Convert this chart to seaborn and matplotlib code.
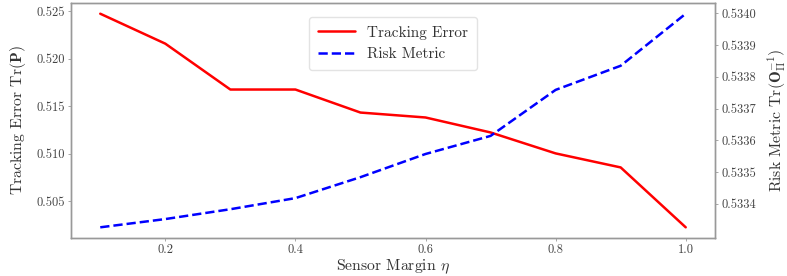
import matplotlib
matplotlib.use("Agg")
import matplotlib.pyplot as plt
import seaborn as sns
import pandas as pd

eta = [0.1, 0.2, 0.3, 0.4, 0.5, 0.6, 0.7, 0.8, 0.9, 1.0]
tracking_error = [0.52476, 0.5216, 0.51676, 0.51676, 0.51433, 0.51381, 0.51223, 0.51002, 0.50854, 0.50222]
risk_metric = [0.533326, 0.533352, 0.533383, 0.533418, 0.533484, 0.533557, 0.533614, 0.533759, 0.533835, 0.533999]

sns.set_theme(style="white")
plt.rcParams['font.family'] = 'serif'
plt.rcParams['font.serif'] = ['cmr10']
plt.rcParams['mathtext.fontset'] = 'cm'
plt.rcParams['axes.formatter.use_mathtext'] = True
plt.rcParams['axes.unicode_minus'] = False

df = pd.DataFrame({"eta": eta, "te": tracking_error, "rm": risk_metric})

fig, ax1 = plt.subplots(figsize=(7.87, 2.76), dpi=100)
fig.subplots_adjust(left=0.0902, right=0.9085, top=0.989, bottom=0.1377)

sns.lineplot(data=df, x="eta", y="te", ax=ax1, color="red", lw=1.8, label="Tracking Error", legend=False)
ax2 = ax1.twinx()
sns.lineplot(data=df, x="eta", y="rm", ax=ax2, color="blue", lw=1.8, linestyle="--", label="Risk Metric", legend=False)

lab = dict(fontsize=11.3, color="#333333")
ax1.set_xlabel(r"Sensor Margin $\eta$", labelpad=1, **lab)
ax1.set_ylabel(r"Tracking Error Tr$(\mathbf{P})$", labelpad=6, **lab)
ax2.set_ylabel(r"Risk Metric Tr$(\mathbf{O}_{\mathbf{\Pi}}^{-1})$", labelpad=7, **lab)

ax1.set_xticks([0.2, 0.4, 0.6, 0.8, 1.0])
ax1.set_xticklabels(["0.2", "0.4", "0.6", "0.8", "1.0"])
ax1.set_yticks([0.505, 0.510, 0.515, 0.520, 0.525])
ax1.set_yticklabels(["0.505", "0.510", "0.515", "0.520", "0.525"])
rt = [0.5334, 0.5335, 0.5336, 0.5337, 0.5338, 0.5339, 0.5340]
ax2.set_yticks(rt)
ax2.set_yticklabels([f"{v:.4f}" for v in rt])

for ax in (ax1, ax2):
    ax.tick_params(labelsize=9, labelcolor="#444444", color="#999999", length=2.5, width=0.6, pad=2)
    for s in ax.spines.values():
        s.set_color("#999999")
        s.set_linewidth(1.0)
ax1.tick_params(axis="both", bottom=True, left=True)
ax2.tick_params(axis="y", right=True)

h1, l1 = ax1.get_legend_handles_labels()
h2, l2 = ax2.get_legend_handles_labels()
leg = ax1.legend(h1 + h2, l1 + l2, loc="upper center", fontsize=11, frameon=True,
                 bbox_to_anchor=(0.5, 0.975), handlelength=2.4, borderpad=0.6)
leg.get_frame().set_edgecolor("#dddddd")
for t in leg.get_texts():
    t.set_color("#333333")

fig.savefig("out.png", dpi=100)
